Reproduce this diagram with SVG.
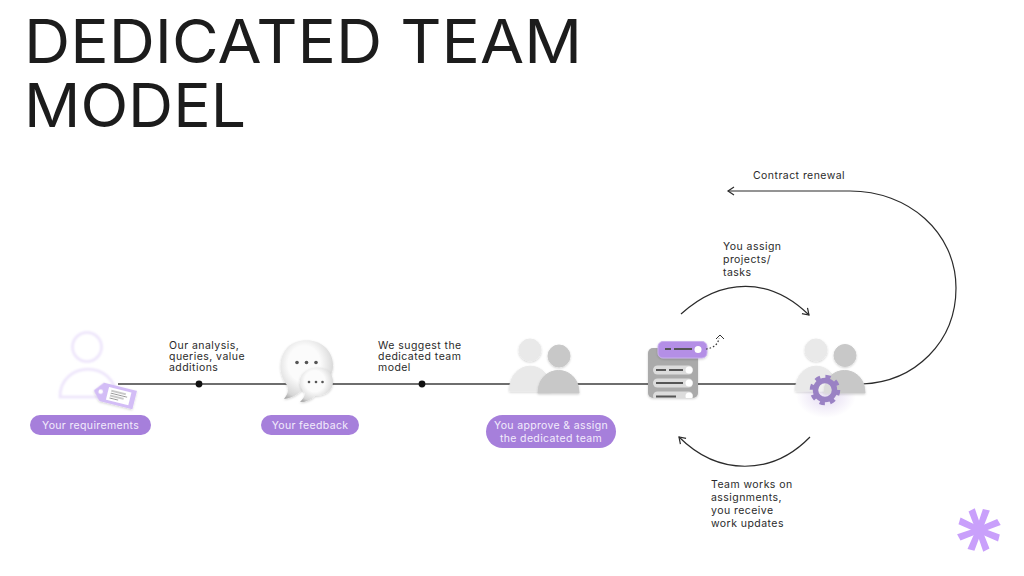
<svg xmlns="http://www.w3.org/2000/svg" width="1024" height="576" viewBox="0 0 1024 576">
<style>
.t{font-family:Inter,"Liberation Sans",sans-serif;font-size:60.5px;font-weight:400;fill:#1c1c1c}
.l{font-family:Inter,"Liberation Sans",sans-serif;font-size:10.5px;letter-spacing:.45px;fill:#2a2a2a}
.p{font-family:Inter,"Liberation Sans",sans-serif;font-size:10.5px;letter-spacing:.35px;fill:#f3ecfb;text-anchor:middle}
.pill{fill:#a67fdb}
.c{fill:none;stroke:#2b2b2b;stroke-width:1.2}
.ln{stroke:#6e6e6e;stroke-width:2}
.arm{fill:#c9a0fb}
.lt{fill:#e9e9e9;stroke:#e9e9e9;stroke-width:1;stroke-linejoin:round}
.dk{fill:#c8c8c8;stroke:#c8c8c8;stroke-width:1;stroke-linejoin:round}
.row{fill:#dcdcdc}
.bar{stroke:#555;stroke-width:1.8;fill:none}
</style>
<defs>
<marker id="a" markerWidth="10" markerHeight="10" refX="8" refY="5" orient="auto" markerUnits="userSpaceOnUse"><path d="M2 1 L8 5 L2 9" fill="none" stroke="#2b2b2b" stroke-width="1.2"/></marker>
<radialGradient id="glow"><stop offset="0" stop-color="#a080d0" stop-opacity=".3"/><stop offset="1" stop-color="#a080d0" stop-opacity="0"/></radialGradient>
<radialGradient id="bub" cx=".45" cy=".4" r=".68"><stop offset=".45" stop-color="#fbfbfb"/><stop offset=".85" stop-color="#d6d6d6"/><stop offset="1" stop-color="#a8a8a8"/></radialGradient>
<filter id="s" x="-20%" y="-20%" width="140%" height="140%"><feDropShadow dx="0" dy="1" stdDeviation="1.200" flood-color="#000" flood-opacity=".18"/></filter>
<filter id="b" x="-20%" y="-20%" width="140%" height="140%"><feGaussianBlur stdDeviation=".9"/></filter>
<path id="w" d="M-3 0 L-3.500 -21 L3.500 -22 L3 0 Z"/>
<clipPath id="cp"><rect x="648" y="348" width="50" height="50" rx="5"/></clipPath>
</defs>
<text class="t" x="24" y="63" textLength="558" lengthAdjust="spacingAndGlyphs">DEDICATED TEAM</text>
<text class="t" x="24" y="127" textLength="222" lengthAdjust="spacingAndGlyphs">MODEL</text>
<g id="connectors">
<path class="ln" d="M118 384 H800"/>
<circle cx="199" cy="384" r="3.400" fill="#111"/>
<circle cx="422" cy="384" r="3.400" fill="#111"/>
<path class="c" d="M862 384 C915 382 956 342 956 288 C956 232 908 191 850 191 H728" marker-end="url(#a)"/>
<path class="c" d="M681 314 C722 277 770 277 809 315" marker-end="url(#a)"/>
<path class="c" d="M810 437 C772 476 718 476 679 437" marker-end="url(#a)"/>
</g>
<g id="node-requirements">
<g filter="url(#b)" fill="#fff" stroke="#ece3fb" stroke-width="2.500">
<circle cx="87" cy="347" r="14.500"/>
<path d="M60 397 C60 360 116 360 116 397 Z"/>
</g>
<g transform="rotate(14 112 396)" filter="url(#s)">
<path d="M101 385 H135 V404 H101 L93 395 Z" fill="#d3bdf6"/>
<rect x="107" y="388" width="23" height="13" fill="#fff"/>
<path d="M110 391 H125 M110 393.500 H127 M110 396 H124 M110 398.500 H119" stroke="#777" stroke-width=".8"/>
<circle cx="100" cy="394.500" r="2.200" fill="#fff"/>
</g>
<rect class="pill" x="30" y="415" width="121" height="20" rx="10"/>
<text class="p" x="90.500" y="429">Your requirements</text>
</g>
<text class="l" x="169" y="349">Our analysis,</text>
<text class="l" x="169" y="360">queries, value</text>
<text class="l" x="169" y="371">additions</text>
<g id="node-feedback">
<g filter="url(#s)">
<path d="M287 385 C276 372 279 348 296 342 C314 336 332 346 333 364 C334 378 322 388 304 388 C299 394 292 398 284 399 C288 394 289 390 287 385 Z" fill="url(#bub)"/>
</g>
<circle cx="297" cy="362.500" r="1.800" fill="#555"/><circle cx="306.500" cy="362.500" r="1.800" fill="#555"/><circle cx="316" cy="362.500" r="1.800" fill="#555"/>
<g filter="url(#s)">
<path d="M305 393 C295 383 300 369 316 367.500 C329 367 333 375 333 382 C333 391 324 396 315 396 C311 400 306 402 300 402 C303 399 305 396 305 393 Z" fill="url(#bub)"/>
</g>
<circle cx="309" cy="382" r="1.300" fill="#555"/><circle cx="316" cy="382" r="1.300" fill="#555"/><circle cx="322.500" cy="382" r="1.300" fill="#555"/>
<rect class="pill" x="261" y="415" width="98" height="20" rx="10"/>
<text class="p" x="310" y="429">Your feedback</text>
</g>
<text class="l" x="378" y="349">We suggest the</text>
<text class="l" x="378" y="360">dedicated team</text>
<text class="l" x="378" y="371">model</text>
<g id="node-approve">
<g filter="url(#s)">
<circle class="lt" cx="530" cy="350" r="11"/>
<path class="lt" d="M509.500 391 C509.500 358 551 358 551 391 Z"/>
</g>
<g filter="url(#s)">
<circle class="dk" cx="559" cy="356" r="11"/>
<path class="dk" d="M538 393 C538 363 579 363 579 393 Z"/>
</g>
<rect class="pill" x="486" y="415" width="130" height="33" rx="16.500"/>
<text class="p" x="551" y="429">You approve &amp; assign</text>
<text class="p" x="551" y="442">the dedicated team</text>
</g>
<g id="node-tasks">
<rect x="648" y="348" width="50" height="50" rx="5" fill="#aaa" filter="url(#s)"/>
<g clip-path="url(#cp)">
<rect class="row" x="653" y="365.500" width="40" height="9" rx="4.500"/><path class="bar" d="M656 370 H666 M669 370 H683"/><circle cx="689" cy="370" r="3.500" fill="#fff"/>
<rect class="row" x="653" y="378.500" width="40" height="9" rx="4.500"/><path class="bar" d="M656 383 H683"/><circle cx="689" cy="383" r="3.500" fill="#fff"/>
<rect class="row" x="653" y="391.500" width="40" height="9" rx="4.500"/><path class="bar" d="M656 396.500 H676"/><circle cx="689" cy="396" r="3.500" fill="#fff"/>
</g>
<rect x="658" y="341.500" width="49" height="16.500" rx="5" fill="#b48fe6" stroke="#c9b0ee" stroke-width="1" filter="url(#s)"/>
<path class="bar" d="M665 349 H671 M674 349 H692"/><circle cx="698" cy="349.500" r="3.500" fill="#fff"/>
<path d="M706 349 C713 348 718 345 719 338" fill="none" stroke="#333" stroke-width="1.200" stroke-dasharray="1.600 2"/>
<path d="M716 339 L720 335 L724 339" fill="none" stroke="#333" stroke-width="1"/>
</g>
<g id="node-team">
<ellipse cx="826" cy="396" rx="30" ry="22" fill="url(#glow)"/>
<g filter="url(#s)">
<circle class="lt" cx="816" cy="350" r="11"/>
<path class="lt" d="M795.500 391 C795.500 358 837 358 837 391 Z"/>
</g>
<g filter="url(#s)">
<circle class="dk" cx="845" cy="355.500" r="11"/>
<path class="dk" d="M824 393 C824 363 865 363 865 393 Z"/>
</g>
<circle cx="825" cy="390" r="9.500" fill="#ffffff" fill-opacity=".35" stroke="#9a82c4" stroke-width="5.500"/>
<circle cx="825" cy="390" r="13" fill="none" stroke="#9a82c4" stroke-width="4.500" stroke-dasharray="5.100 5.110"/>
</g>
<text class="l" x="753" y="179">Contract renewal</text>
<text class="l" x="723" y="250">You assign</text>
<text class="l" x="723" y="263">projects/</text>
<text class="l" x="723" y="276">tasks</text>
<text class="l" x="711" y="488">Team works on</text>
<text class="l" x="711" y="501">assignments,</text>
<text class="l" x="711" y="514">you receive</text>
<text class="l" x="711" y="527">work updates</text>
<g id="logo" class="arm">
<use href="#w" transform="translate(979 530) rotate(-20)"/>
<use href="#w" transform="translate(979 530) rotate(20)"/>
<use href="#w" transform="translate(979 530) rotate(68)"/>
<use href="#w" transform="translate(979 530) rotate(112)"/>
<use href="#w" transform="translate(979 530) rotate(160)"/>
<use href="#w" transform="translate(979 530) rotate(202)"/>
<use href="#w" transform="translate(979 530) rotate(250)"/>
<use href="#w" transform="translate(979 530) rotate(295)"/>
</g>
</svg>
